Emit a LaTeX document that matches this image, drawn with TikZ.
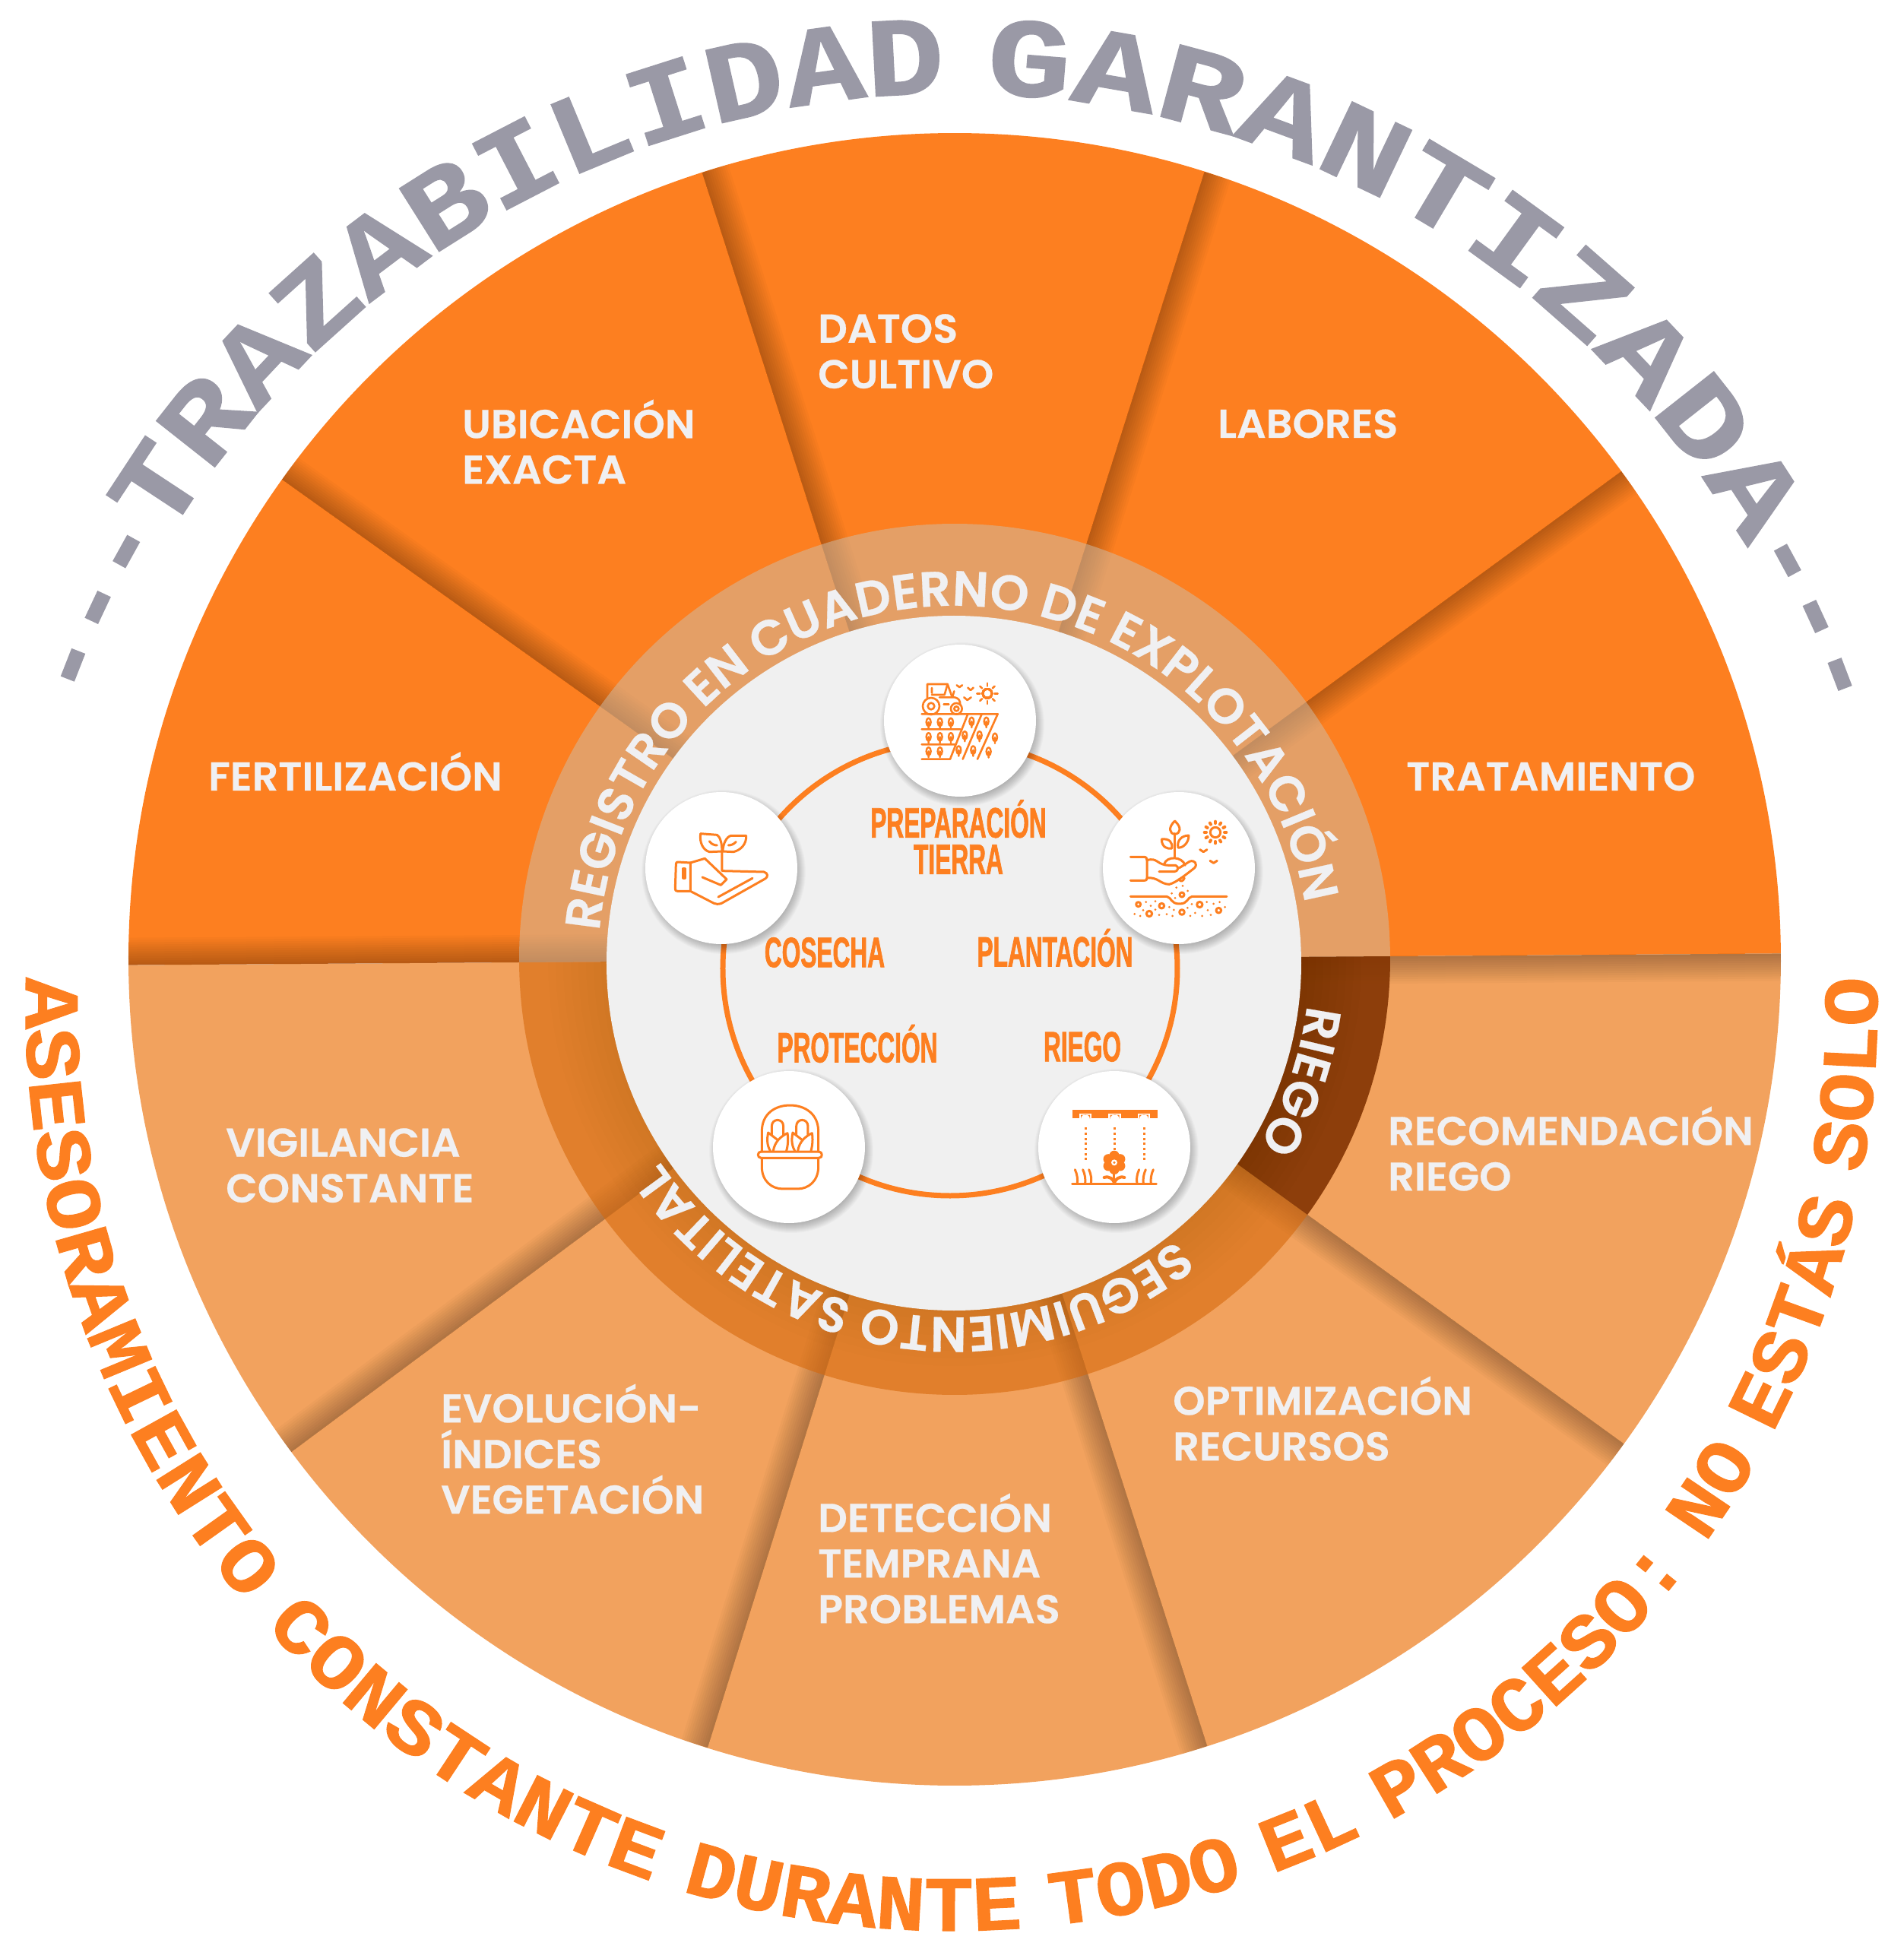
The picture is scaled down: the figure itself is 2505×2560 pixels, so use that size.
\documentclass[tikz,border=0pt]{standalone}
\usepackage{fontspec}
\usetikzlibrary{decorations.text}
\setmainfont{Poppins}
\newfontfamily\sectorfont[FakeStretch=1.02,FakeBold=0.4]{Poppins}[UprightFont=* SemiBold]
\newfontfamily\ringfont[FakeBold=0.4]{Poppins}[UprightFont=* SemiBold]
\newfontfamily\stagefont[FakeStretch=0.565,FakeBold=1.2]{Liberation Sans}
\newfontfamily\topfont[FakeStretch=1.157,WordSpace=0.5,FakeBold=1.2]{Liberation Mono}
\newfontfamily\topfontb[FakeStretch=1.247,WordSpace=0.5,FakeBold=1.2]{Liberation Mono}
\newfontfamily\dashfont[FakeStretch=0.9,FakeBold=1.2]{Liberation Mono}
\newfontfamily\lowfont[FakeStretch=1.108,WordSpace=0.6,FakeBold=1]{Liberation Mono}
\newfontfamily\lowfontb[FakeStretch=1.05,WordSpace=0.6,FakeBold=1]{Liberation Mono}

\definecolor{upperorange}{HTML}{FD7F20}
\definecolor{lowerorange}{HTML}{F2A25E}
\definecolor{labelgray}{HTML}{F0F0F2}
\definecolor{discgray}{HTML}{F0F0F0}
\definecolor{titlegray}{HTML}{9A99A6}

\tikzset{
  sectorlabel/.style={anchor=west, align=left, text=labelgray, inner sep=0pt,
    font=\sectorfont\fontsize{53}{60}\selectfont,
    execute at begin node={\rule{0pt}{70pt}}, execute at end node={\rule[-32pt]{0pt}{32pt}}},
  stagelabel/.style={align=center, text=upperorange, inner sep=0pt,
    font=\stagefont\bfseries\fontsize{56}{48}\selectfont},
  stagecircle/.style={circle, fill=white, minimum size=200pt, inner sep=0pt},
  iconline/.style={draw=upperorange, line width=3pt, line cap=round, line join=round},
  iconfill/.style={fill=upperorange},
  ringtext/.style={decorate, decoration={text along path, text align=center, text={#1}}},
}
\newcommand{\ringlabel}{|\ringfont\color{labelgray}\fontsize{65}{70}\selectfont|}
\newcommand{\topdash}{|\dashfont\bfseries\color{titlegray}\fontsize{148}{150}\selectfont|}
\newcommand{\toptitle}{|\topfont\bfseries\color{titlegray}\fontsize{148}{150}\selectfont|}
\newcommand{\toptitleb}{|\topfontb\bfseries\color{titlegray}\fontsize{148}{150}\selectfont|}
% small tree of the field icon
\newcommand{\fieldtree}[2]{
  \draw[iconline, line width=2.4pt] (#1,#2) ellipse (9 and 16) (#1,#2) -- (#1,#2+24);
}

\begin{document}
\begin{tikzpicture}[x=1pt, y=1pt]
\useasboundingbox (-1259,-1295) rectangle (1246,1265);

\begin{scope}[shift={(-3,3)}]
% sectors
\fill[upperorange] (0,0) -- (0.4:1087) arc[start angle=0.4, end angle=180.4, radius=1087] -- cycle;
\fill[lowerorange] (0,0) -- (180.4:1087) arc[start angle=180.4, end angle=360.4, radius=1087] -- cycle;
\begin{scope}
  \clip (0,0) circle (1087);
  \foreach \a in {0.4,36.2,72.4,107.8,144.5,180.4,216.6,252.6,287.8,324.1}
    \foreach \w in {3,6,...,36}
      \fill[black, opacity=0.023, rotate=\a] (0,0) rectangle (1087,-\w);
\end{scope}

% middle ring
\fill[color={rgb,255:red,205;green,191;blue,172}, opacity=0.5] (0,0) -- (0.4:573) arc[start angle=0.4, end angle=180.4, radius=573] -- cycle;
\fill[color={rgb,255:red,214;green,104;blue,11}, opacity=0.6] (0,0) -- (180.4:573) arc[start angle=180.4, end angle=324.1, radius=573] -- cycle;
\fill[color={rgb,255:red,131;green,52;blue,2}, opacity=0.9] (0,0) -- (324.1:573) arc[start angle=324.1, end angle=360.4, radius=573] -- cycle;
\foreach \r in {465,475,...,535}
  \fill[black, opacity=0.009] (0,0) -- (180.4:\r) arc[start angle=180.4, end angle=360.4, radius=\r] -- cycle;
\end{scope}

% centre disc and stage ring
\fill[discgray] (-4,-2) circle (457);
\draw[upperorange, line width=7pt] (-9,-9) circle (299);

% stage circles, soft shadow first
\foreach \cx/\cy in {4/317, 292/123, -310/123, 207/-244, -221/-244}
  \foreach \r in {1,2,...,16}
    \fill[black, opacity=0.02] (\cx+3,\cy-5) circle (92+\r);
\node[stagecircle] (preparacion) at (4,317) {};
\node[stagecircle] (plantacion) at (292,123) {};
\node[stagecircle] (riegostage) at (207,-244) {};
\node[stagecircle] (proteccion) at (-221,-244) {};
\node[stagecircle] (cosecha) at (-310,123) {};

% field icon
\begin{scope}[shift={(preparacion)}, x=0.3333pt, y=-0.3333pt, shift={(-339,-324)}, iconline/.append style={line width=2.6pt}]
  \draw[iconline] (210,235) -- (210,180) -- (290,180) -- (307,228);
  \draw[iconline] (228,215) -- (228,195) (228,222) -- (278,222) -- (290,180);
  \draw[iconline] (258,232) -- (318,232) .. controls (335,236) and (340,245) .. (340,262);
  \draw[iconline] (310,228) -- (316,208);
  \draw[iconline] (225,267) circle (33) (225,267) circle (13);
  \draw[iconline] (325,277) circle (22) (325,277) circle (9);
  \draw[iconline] (275,260) -- (295,260);
  \draw[iconline] (188,298) -- (488,298) -- (408,476) (188,358) -- (340,358);
  \draw[iconline] (188,418) -- (322,418) (188,476) -- (300,476) -- (370,298);
  \draw[iconline] (425,298) -- (350,476);
  \foreach \tx/\ty in {215/330,260/330,303/330,215/388,260/388,303/388,215/445,260/445,385/327,443/327,358/382,416/382,477/390,334/440,391/440,452/446}
    \fieldtree{\tx}{\ty}
  \draw[iconline] (447,217) circle (18);
  \foreach \a in {0,45,...,315}
    \draw[iconline] (447,217) ++(\a:29) -- ++(\a:12);
  \draw[iconline] (326,184) -- (337,192) -- (348,184) (370,194) -- (381,204) -- (392,194) (355,232) -- (368,243) -- (383,232);
\end{scope}

% planting icon
\begin{scope}[shift={(plantacion)}, x=0.3333pt, y=-0.3333pt, shift={(-333,-306)}]
  \draw[iconline] (477,165) circle (20);
  \foreach \a in {0,30,...,330}
    \draw[iconline, line width=4pt] (477,165) ++(\a:36) -- ++(\a:7);
  \draw[iconline] (317,170) -- (317,262);
  \draw[iconline] (317,120) .. controls (290,145) and (295,170) .. (317,172) .. controls (340,170) and (345,145) .. (317,120);
  \draw[iconline] (265,192) .. controls (265,225) and (290,232) .. (305,228) .. controls (310,205) and (295,188) .. (265,192);
  \draw[iconline] (372,177) .. controls (372,210) and (345,228) .. (330,225) .. controls (325,200) and (340,178) .. (372,177);
  \draw[iconline] (142,262) -- (195,262) .. controls (205,262) and (207,268) .. (207,275) -- (207,345) .. controls (207,352) and (205,355) .. (195,355) -- (142,355);
  \draw[iconline] (207,275) .. controls (250,262) and (245,295) .. (295,295) -- (320,295) .. controls (335,300) and (330,320) .. (315,320) -- (255,320);
  \draw[iconline] (207,345) .. controls (250,340) and (260,370) .. (295,370) .. controls (320,365) and (370,325) .. (395,305) .. controls (408,290) and (395,272) .. (375,280) -- (335,305);
  \draw[iconline] (275,290) .. controls (285,258) and (345,258) .. (358,295);
  \draw[iconline] (333,350) .. controls (340,362) and (350,358) .. (355,345);
  \draw[iconline] (142,418) -- (285,418) .. controls (305,422) and (300,447) .. (335,447) .. controls (370,447) and (365,422) .. (385,418) -- (522,418);
  \draw[iconline] (345,411) circle (9) (173,449) circle (9) (265,455) circle (10) (216,486) circle (11) (345,480) circle (10) (415,450) circle (11) (490,473) circle (10);
  \foreach \dx/\dy in {323/383,348/376,305/406,368/396,318/424,203/440,240/437,222/455,192/472,240/470,295/460,158/487,180/495,255/491,285/488,308/495,313/471,367/463,384/448,443/440,470/447,494/440,515/460,447/472,397/483,378/495,425/495,459/491}
    \fill[iconfill] (\dx,\dy) circle (4.5);
  \draw[iconline] (416,233) -- (430,242) -- (444,233) (456,277) -- (470,286) -- (484,277);
\end{scope}

% irrigation icon
\begin{scope}[shift={(riegostage)}, x=0.3333pt, y=-0.3333pt, shift={(-318,-177)}]
  \fill[iconfill] (152,30) rectangle (488,64);
  \foreach \nx in {204,320,435} {
    \fill[white] (\nx-25,44) rectangle (\nx+25,64);
    \fill[iconfill] (\nx-18,50) -- (\nx+18,50) -- (\nx+18,66) arc[start angle=0, end angle=-180, radius=18] -- cycle;
    \foreach \ny in {104,124,...,224}
      \fill[iconfill] (\nx+1-4.5,\ny-4.5) rectangle (\nx+1+4.5,\ny+4.5);
  }
  \foreach \a in {30,90,...,330}
    \fill[iconfill] (318,238) ++(\a:27) circle (20);
  \fill[iconfill] (318,238) circle (24);
  \fill[white] (318,238) circle (12);
  \fill[iconfill] (318,238) circle (5);
  \draw[iconline] (318,270) -- (318,321);
  \draw[iconline, line width=4pt] (278,297) .. controls (300,290) and (315,305) .. (318,318) .. controls (322,305) and (338,290) .. (358,297);
  \draw[iconline] (152,321) -- (484,321);
  \draw[iconline] (163,266) .. controls (172,285) and (174,305) .. (172,321) (194,266) .. controls (203,285) and (205,305) .. (203,321) (218,266) .. controls (227,285) and (229,305) .. (226,321);
  \draw[iconline] (416,266) .. controls (407,285) and (405,305) .. (408,321) (442,266) .. controls (433,285) and (431,305) .. (433,321) (472,266) .. controls (463,285) and (461,305) .. (463,321);
\end{scope}

% basket icon
\begin{scope}[shift={(proteccion)}, x=0.3333pt, y=-0.3333pt, shift={(-294,-177)}]
  \draw[iconline] (187,195) -- (187,115) .. controls (187,45) and (240,12) .. (298,12) .. controls (356,12) and (410,45) .. (410,115) -- (410,195);
  \draw[iconline] (184,195) -- (412,195) .. controls (428,195) and (428,220) .. (412,220) -- (184,220) .. controls (168,220) and (168,195) .. (184,195);
  \draw[iconline] (187,220) -- (187,255) .. controls (187,310) and (225,342) .. (270,342) -- (328,342) .. controls (372,342) and (410,310) .. (410,255) -- (410,220);
  \foreach \sx in {0,97} {
    \draw[iconline] (226+\sx,128) -- (226+\sx,95) .. controls (226+\sx,62) and (272+\sx,62) .. (272+\sx,95) -- (272+\sx,128);
    \draw[iconline] (220+\sx,192) .. controls (205+\sx,165) and (208+\sx,140) .. (212+\sx,120) -- (247+\sx,147);
    \draw[iconline] (232+\sx,192) .. controls (238+\sx,155) and (262+\sx,135) .. (288+\sx,122) .. controls (292+\sx,145) and (290+\sx,170) .. (284+\sx,192);
  }
\end{scope}

% hand icon
\begin{scope}[shift={(cosecha)}, x=0.3333pt, y=-0.3333pt, shift={(-297,-276)}]
  \draw[iconline] (215,140) -- (280,145) .. controls (292,150) and (300,180) .. (300,210) -- (250,212) .. controls (225,205) and (210,175) .. (215,140);
  \draw[iconline] (395,148) -- (335,148) .. controls (318,152) and (303,180) .. (303,210) -- (345,212) .. controls (375,205) and (397,180) .. (395,148);
  \draw[iconline] (250,170) .. controls (258,182) and (270,186) .. (280,186) (355,172) .. controls (347,182) and (335,186) .. (325,186);
  \draw[iconline] (300,210) -- (300,287) -- (465,291) .. controls (482,295) and (482,312) .. (470,318) -- (298,415) .. controls (285,420) and (275,418) .. (268,415) -- (175,367);
  \draw[iconline] (125,252) -- (175,255) -- (175,367) -- (125,367) .. controls (115,367) and (115,360) .. (115,355) -- (118,262) .. controls (118,255) and (120,252) .. (125,252);
  \draw[iconline] (145,277) -- (155,277) -- (155,317) -- (145,317) -- cycle;
  \draw[iconline] (175,255) -- (232,238) -- (318,320) -- (295,343) -- (222,312);
  \draw[iconline] (285,390) -- (420,316);
\end{scope}

% stage labels
\node[stagelabel] (preparaciontext) at (2,164) {PREPARACIÓN\\TIERRA};
\node[stagelabel] (plantaciontext) at (129,18) {PLANTACIÓN};
\node[stagelabel] (cosechatext) at (-174,12) {COSECHA};
\node[stagelabel] (protecciontext) at (-131,-108) {PROTECCIÓN};
\node[stagelabel] (riegotext) at (165,-112) {RIEGO};

% sector labels
\node[sectorlabel] (ubicacion) at (-651,668) {UBICACIÓN\\EXACTA};
\node[sectorlabel] (datos) at (-183,787) {DATOS\\CULTIVO};
\node[sectorlabel] (labores) at (343,708) {LABORES};
\node[sectorlabel] (tratamiento) at (591,244) {TRATAMIENTO};
\node[sectorlabel] (fertilizacion) at (-985,244) {FERTILIZACIÓN};
\node[sectorlabel] (vigilancia) at (-962,-284) {VIGILANCIA\\CONSTANTE};
\node[sectorlabel] (recomendacion) at (567,-262) {RECOMENDACIÓN\\RIEGO};
\node[sectorlabel] (optimizacion) at (284,-617) {OPTIMIZACIÓN\\RECURSOS};
\node[sectorlabel] (evolucion) at (-679,-657) {EVOLUCIÓN-\\ÍNDICES\\VEGETACIÓN};
\node[sectorlabel] (deteccion) at (-183,-801) {DETECCIÓN\\TEMPRANA\\PROBLEMAS};

% texts in the ring
\path[ringtext={\ringlabel REGISTRO EN CUADERNO DE EXPLOTACIÓN}] (-4,0) ++(174:468) arc[start angle=174, end angle=10.5, radius=468];
\path[ringtext={\ringlabel SEGUIMIENTO SATELITAL}] (-4,0) ++(-50:468) arc[start angle=-50, end angle=-147, radius=468];
\path[ringtext={\ringlabel RIEGO}] (-4,0) ++(-6:468) arc[start angle=-6, end angle=-32, radius=468];

% outer titles
\path[ringtext={\topdash---\toptitle TRAZABILIDAD \toptitleb GARANTIZADA\topdash---}] (-3,-66) ++(164:1208) arc[start angle=164, end angle=15.4, radius=1208];
\path[ringtext={|\lowfont\bfseries\color{upperorange}\fontsize{103}{105}\selectfont|ASESORAMIENTO CONSTANTE |\lowfontb\bfseries\color{upperorange}\fontsize{103}{105}\selectfont|DURANTE TODO EL PROCESO: NO ESTÁS SOLO}] (-7,-57) ++(176:1218) arc[start angle=176, end angle=364, radius=1218];
\end{tikzpicture}
\end{document}
